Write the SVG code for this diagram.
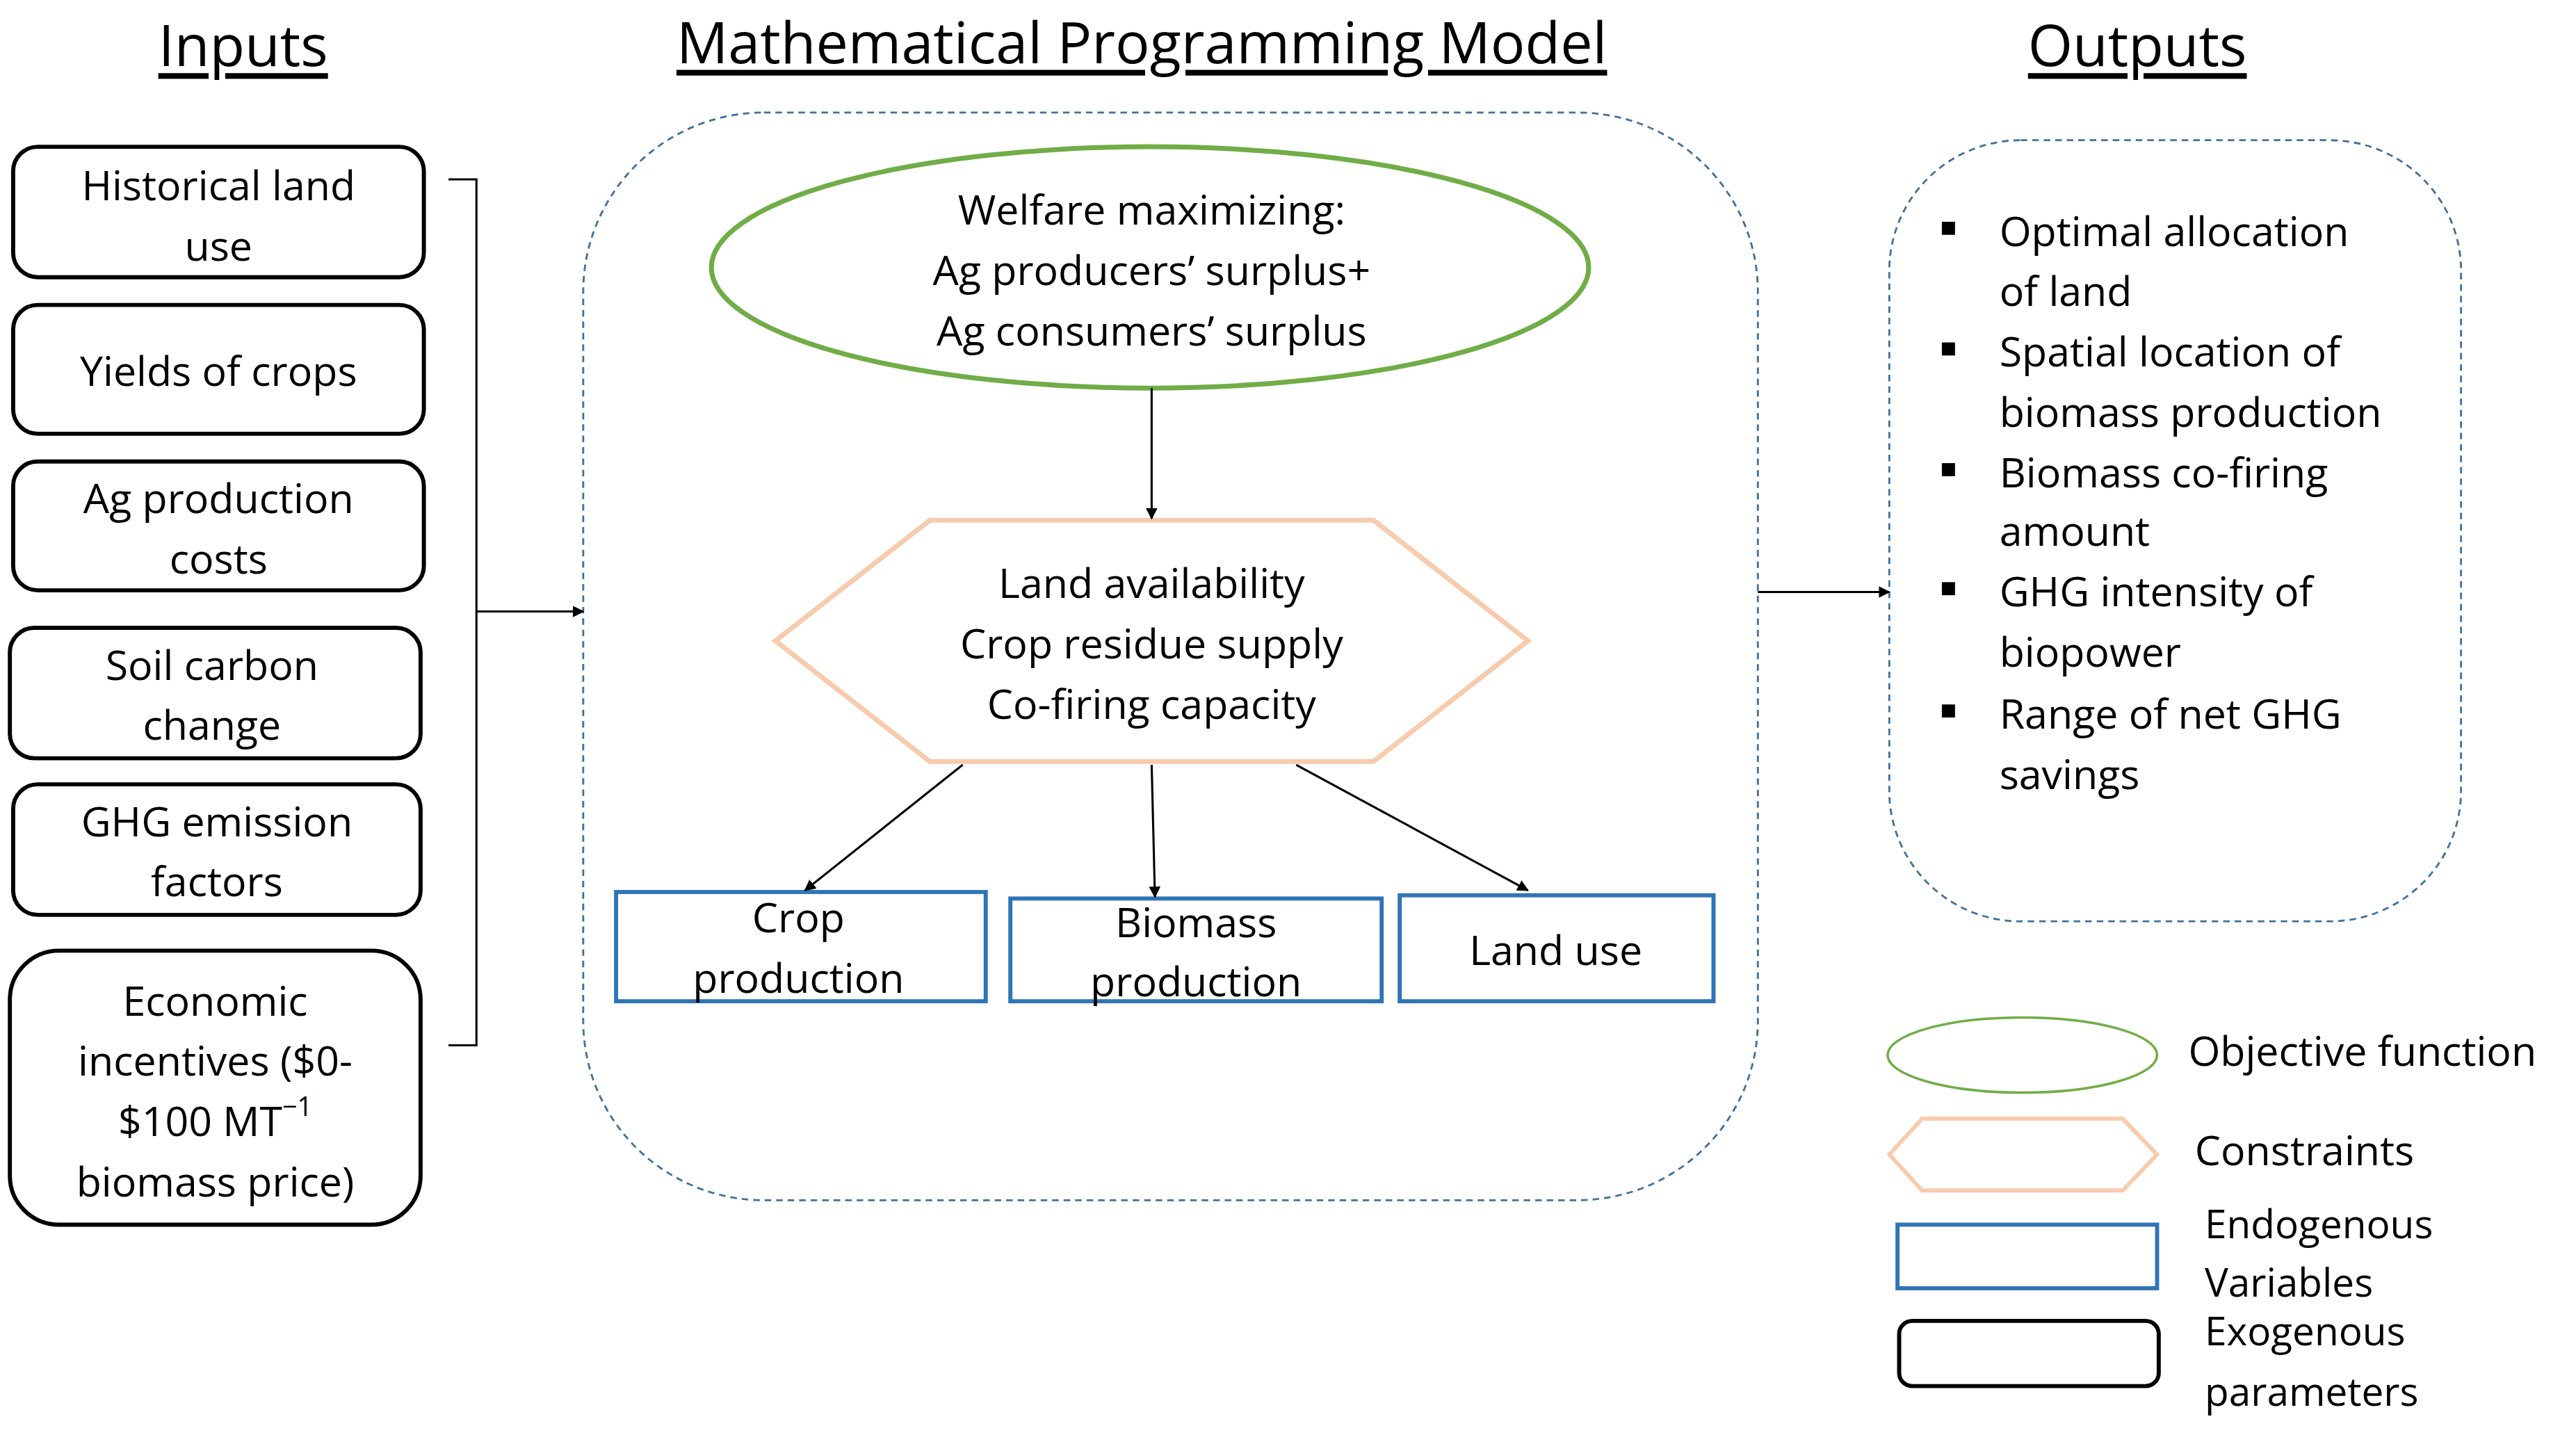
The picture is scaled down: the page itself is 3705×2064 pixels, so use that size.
<svg xmlns="http://www.w3.org/2000/svg" width="3705" height="2064" viewBox="0 0 3705 2064">
<style>
text{font-family:"Open Sans","Liberation Sans",sans-serif;font-size:25px;fill:#000;dominant-baseline:central}
.c{text-anchor:middle}
.h{font-size:35px;text-decoration:underline}
.lg{font-size:24px}
.in{fill:#fff;stroke:#000;stroke-width:2.5}
.en{fill:#fff;stroke:#2e75b6;stroke-width:2.5}
.dash{fill:none;stroke:#41719c;stroke-width:1.2;stroke-dasharray:4 3}
.ln{fill:none;stroke:#000;stroke-width:1.3}
</style>
<defs><marker id="a" viewBox="0 0 10 10" refX="9" refY="5" markerWidth="7" markerHeight="7" orient="auto" markerUnits="userSpaceOnUse"><path d="M0,0L10,5L0,10z" fill="#000"/></marker></defs>
<rect width="3705" height="2064" fill="#fff"/>
<g transform="scale(2.3629,2.3455)">
<text class="c h" x="148" y="27">Inputs</text>
<text class="c h" x="695" y="25">Mathematical Programming Model</text>
<text class="c h" x="1301" y="27">Outputs</text>
<g id="in1"><rect class="in" x="8" y="90" width="250" height="80" rx="15"/><text class="c" x="133" y="113">Historical land</text><text class="c" x="133" y="150">use</text></g>
<g id="in2"><rect class="in" x="8" y="187" width="250" height="79" rx="15"/><text class="c" x="133" y="227">Yields of crops</text></g>
<g id="in3"><rect class="in" x="8" y="283" width="250" height="79" rx="15"/><text class="c" x="133" y="305">Ag production</text><text class="c" x="133" y="342">costs</text></g>
<g id="in4"><rect class="in" x="6" y="385" width="250" height="80" rx="15"/><text class="c" x="129" y="407">Soil carbon</text><text class="c" x="129" y="444">change</text></g>
<g id="in5"><rect class="in" x="8" y="481" width="248" height="80" rx="15"/><text class="c" x="132" y="503">GHG emission</text><text class="c" x="132" y="540">factors</text></g>
<g id="in6"><rect class="in" x="6" y="583" width="250" height="168" rx="30"/><text class="c" x="131" y="613">Economic</text><text class="c" x="131" y="650">incentives ($0-</text><text class="c" x="131" y="687">$100 MT<tspan font-size="16" dy="-9">−1</tspan></text><text class="c" x="131" y="724">biomass price)</text></g>
<g id="model"><rect class="dash" x="355" y="69" width="715" height="667" rx="110"/></g>
<g id="objective"><ellipse cx="700" cy="164" rx="267" ry="74" fill="#fff" stroke="#70ad47" stroke-width="3"/><text class="c" x="701" y="128">Welfare maximizing:</text><text class="c" x="701" y="165">Ag producers’ surplus+</text><text class="c" x="701" y="202">Ag consumers’ surplus</text></g>
<g id="constraints"><polygon points="472,393 566,319 836,319 930,393 836,467 566,467" fill="#fff" stroke="#f8cbad" stroke-width="3"/><text class="c" x="701" y="357">Land availability</text><text class="c" x="701" y="394">Crop residue supply</text><text class="c" x="701" y="431">Co-firing capacity</text></g>
<g id="crop"><rect class="en" x="375" y="547" width="225" height="67"/><text class="c" x="486" y="562">Crop</text><text class="c" x="486" y="599">production</text></g>
<g id="biomass"><rect class="en" x="615" y="551" width="226" height="63"/><text class="c" x="728" y="565">Biomass</text><text class="c" x="728" y="601">production</text></g>
<g id="landuse"><rect class="en" x="852" y="549" width="191" height="65"/><text class="c" x="947" y="582">Land use</text></g>
<g id="outputs"><rect class="dash" x="1150" y="86" width="348" height="479" rx="80"/>
<g fill="#000"><rect x="1182" y="136" width="8" height="8"/><rect x="1182" y="210" width="8" height="8"/><rect x="1182" y="284" width="8" height="8"/><rect x="1182" y="357" width="8" height="8"/><rect x="1182" y="432" width="8" height="8"/></g>
<text x="1217" y="141">Optimal allocation</text><text x="1217" y="178">of land</text><text x="1217" y="215">Spatial location of</text><text x="1217" y="252">biomass production</text><text x="1217" y="289">Biomass co-firing</text><text x="1217" y="325">amount</text><text x="1217" y="362">GHG intensity of</text><text x="1217" y="399">biopower</text><text x="1217" y="437">Range of net GHG</text><text x="1217" y="474">savings</text></g>
<g id="legend">
<ellipse cx="1231" cy="647" rx="82" ry="23" fill="#fff" stroke="#70ad47" stroke-width="1.5"/><text x="1332" y="644">Objective function</text>
<polygon points="1150,708 1170,686 1292,686 1313,708 1292,730 1170,730" fill="#fff" stroke="#f8cbad" stroke-width="2.5"/><text x="1336" y="705">Constraints</text>
<rect class="en" x="1155" y="751" width="158" height="39"/><text class="lg" x="1342" y="750">Endogenous</text><text class="lg" x="1342" y="786">Variables</text>
<rect class="in" x="1156" y="810" width="158" height="40" rx="8"/><text class="lg" x="1342" y="816">Exogenous</text><text class="lg" x="1342" y="853">parameters</text></g>
<g id="connectors">
<path class="ln" d="M273,110H290V641H273"/>
<path class="ln" d="M290,375H355" marker-end="url(#a)"/>
<path class="ln" d="M701,238V318" marker-end="url(#a)"/>
<path class="ln" d="M586,469L490,546" marker-end="url(#a)"/>
<path class="ln" d="M701,469L703,550" marker-end="url(#a)"/>
<path class="ln" d="M789,469L930,546" marker-end="url(#a)"/>
<path class="ln" d="M1070,363H1150" marker-end="url(#a)"/>
</g>
</g>
</svg>
